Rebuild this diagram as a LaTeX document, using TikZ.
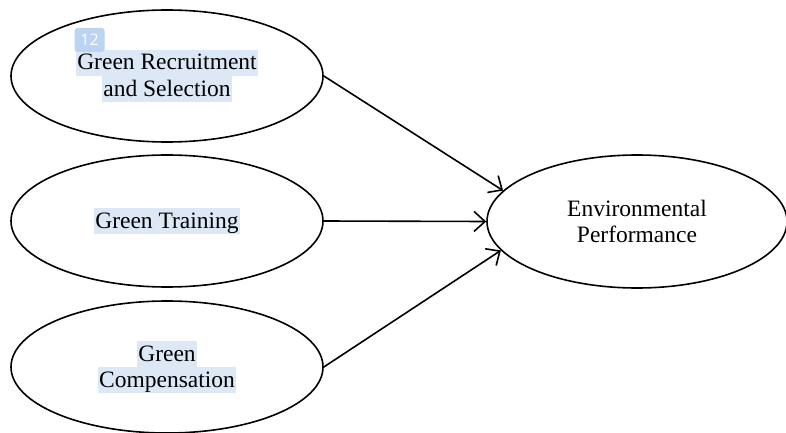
\documentclass[tikz,border=0pt]{standalone}
\usepackage{fontspec}
\setmainfont{Liberation Serif}
\newfontfamily\badgefont{Open Sans}
\usetikzlibrary{shapes.geometric,arrows.meta}
\definecolor{hl}{HTML}{DDE8F6}
\definecolor{badgeblue}{HTML}{BBD4F4}
\newcommand{\hlline}[1]{{\setlength{\fboxsep}{0pt}\colorbox{hl}{\rule[-6pt]{0pt}{26pt}\hspace{1.5pt}#1\hspace{1.5pt}}}}
\begin{document}
\begin{tikzpicture}[x=1pt,y=-1pt,
  latent/.style={ellipse, draw, line width=1.6pt, inner sep=0pt,
    font=\fontsize{23.5}{26}\selectfont, align=center},
  leftbox/.style={latent, minimum width=312pt, minimum height=132pt},
  arrowline/.style={line width=1.6pt, -{Straight Barb[length=11pt,width=20pt,line width=1.6pt]}},
  badge/.style={fill=badgeblue, rounded corners=3pt, minimum width=30pt, minimum height=24pt,
    inner sep=0pt, text=white, font=\badgefont\fontsize{16}{16}\selectfont}]
\useasboundingbox (0,0) rectangle (786,433);
\fill[white] (0,0) rectangle (786,433);
\node[leftbox] (rs) at (167,76) {\hlline{Green Recruitment}\\\hlline{and Selection}};
\node[leftbox] (gt) at (167,221) {\hlline{Green Training}};
\node[leftbox] (gc) at (167,367) {\hlline{Green}\\\hlline{Compensation}};
\node[latent, minimum width=300pt, minimum height=133pt] (ep) at (637,221.5) {Environmental\\Performance};
\node[badge] (b12) at (89.5,40) {12};
\draw[arrowline] (rs.east) -- (ep.167.6);
\draw[arrowline] (gt.east) -- (ep.west);
\draw[arrowline] (gc.east) -- (ep.192.4);
\end{tikzpicture}
\end{document}
